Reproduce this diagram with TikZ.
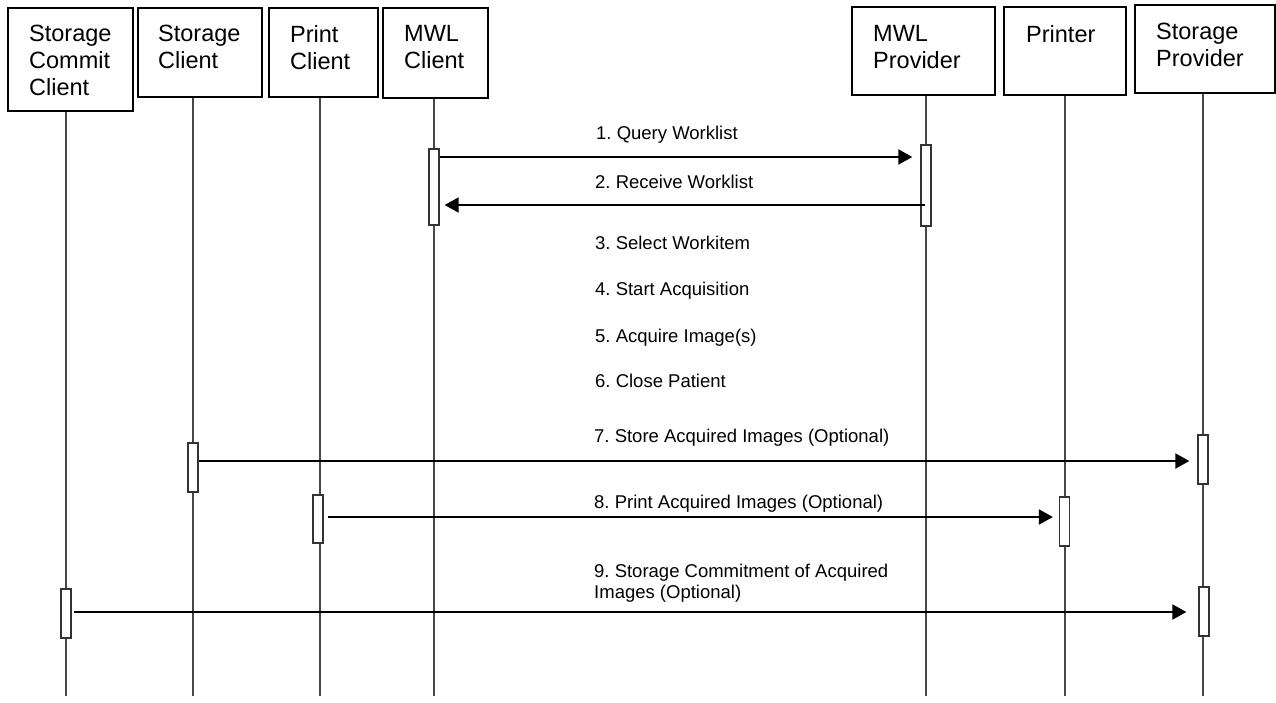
\documentclass[tikz,border=0pt]{standalone}
\usepackage{fontspec}
\setmainfont{Liberation Sans}
\usetikzlibrary{arrows.meta}
\frenchspacing
\begin{document}
\begin{tikzpicture}[x=1pt,y=-1pt,
  actor/.style={draw=black, line width=1.8pt, fill=white, inner sep=0pt},
  btxt/.style={anchor=north west, inner sep=0pt, align=left, font=\fontsize{23.5}{27}\selectfont},
  life/.style={draw=black!72, line width=1.2pt},
  bar/.style={draw=black!80, line width=1.3pt, fill=white, minimum width=10pt, inner sep=0pt},
  msg/.style={line width=2pt, -{Triangle[length=14pt,width=15pt]}},
  mlbl/.style={anchor=base west, inner sep=0pt, font=\fontsize{18.5}{21.5}\selectfont},
  mlbl2/.style={anchor=north west, inner sep=0pt, align=left, font=\fontsize{18.5}{21.5}\selectfont}]
\useasboundingbox (0,0) rectangle (1276,702);
% actor boxes
\node[actor, minimum width=125pt, minimum height=103pt] (scc) at (70.5,59.5) {};
\node[actor, minimum width=124pt, minimum height=89pt] (sc) at (200,52.5) {};
\node[actor, minimum width=109pt, minimum height=89pt] (pc) at (323.5,52.5) {};
\node[actor, minimum width=105pt, minimum height=90pt] (mc) at (435.5,53) {};
\node[actor, minimum width=143pt, minimum height=88pt] (mp) at (923.5,51) {};
\node[actor, minimum width=122pt, minimum height=88pt] (pr) at (1065,51) {};
\node[actor, minimum width=140pt, minimum height=88pt] (sp) at (1205,49) {};
% actor texts
\node[btxt] (scc-t) at (29,25) {Storage\\Commit\\Client};
\node[btxt] (sc-t) at (158,25) {Storage\\Client};
\node[btxt] (pc-t) at (290,25) {Print\\Client};
\node[btxt] (mc-t) at (404,25) {MWL\\Client};
\node[btxt] (mp-t) at (873,25) {MWL\\Provider};
\node[btxt] (pr-t) at (1026,25) {Printer};
\node[btxt] (sp-t) at (1156,23) {Storage\\Provider};
% lifeline ends
\coordinate (scc-e) at (66,696);
\coordinate (sc-e) at (193,696);
\coordinate (pc-e) at (320,696);
\coordinate (mc-e) at (434,696);
\coordinate (mp-e) at (926,696);
\coordinate (pr-e) at (1065,696);
\coordinate (sp-e) at (1203,696);
\draw[life] (scc.south -| scc-e) -- (scc-e);
\draw[life] (sc.south -| sc-e) -- (sc-e);
\draw[life] (pc.south -| pc-e) -- (pc-e);
\draw[life] (mc.south -| mc-e) -- (mc-e);
\draw[life] (mp.south -| mp-e) -- (mp-e);
\draw[life] (pr.south -| pr-e) -- (pr-e);
\draw[life] (sp.south -| sp-e) -- (sp-e);
% activation bars
\node[bar, minimum height=76pt] (mcb) at (434,187) {};
\node[bar, minimum height=81pt] (mpb) at (926,185.5) {};
\node[bar, minimum height=49pt] (scb) at (193,467.5) {};
\node[bar, minimum height=49pt] (spb1) at (1203,459.5) {};
\node[bar, minimum height=48pt] (pcb) at (318,519) {};
\node[bar, minimum height=49pt] (prb) at (1064.5,521.5) {};
\node[bar, minimum height=49pt] (sccb) at (66,613.5) {};
\node[bar, minimum height=49pt] (spb2) at (1204,611.5) {};
% messages
\draw[msg, shorten >=8pt] (mcb.east |- 0,157) -- (mpb.west |- 0,157);
\draw[msg, shorten <=7pt, shorten >=5pt] (mpb.east |- 0,205) -- (mcb.east |- 0,205);
\draw[msg, shorten >=8pt] (scb.east |- 0,461) -- (spb1.west |- 0,461);
\draw[msg, shorten <=4pt, shorten >=6pt] (pcb.east |- 0,517) -- (prb.west |- 0,517);
\draw[msg, shorten <=2pt, shorten >=12pt] (sccb.east |- 0,612) -- (spb2.west |- 0,612);
% labels
\node[mlbl] (l1) at (596,139) {1. Query Worklist};
\node[mlbl] (l2) at (595,188) {2. Receive Worklist};
\node[mlbl] (l3) at (595,249) {3. Select Workitem};
\node[mlbl] (l4) at (595,295) {4. Start Acquisition};
\node[mlbl] (l5) at (595,342) {5. Acquire Image(s)};
\node[mlbl] (l6) at (595,387) {6. Close Patient};
\node[mlbl] (l7) at (594,442) {7. Store Acquired Images (Optional)};
\node[mlbl] (l8) at (594,508) {8. Print Acquired Images (Optional)};
\node[mlbl2] (l9) at (594,563.5) {9. Storage Commitment of Acquired\\Images (Optional)};
\end{tikzpicture}
\end{document}
